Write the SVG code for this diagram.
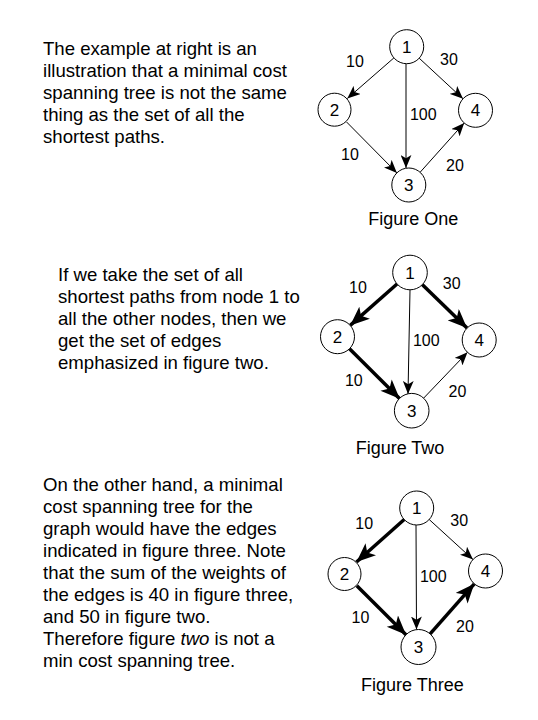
<svg xmlns="http://www.w3.org/2000/svg" width="538" height="720" viewBox="0 0 538 720">
<style>
.p{font-family:"Liberation Sans",Arial,sans-serif;font-size:18.6px;fill:#000}
.n{font-family:"Liberation Sans",Arial,sans-serif;font-size:16px;fill:#000;text-anchor:middle}
.d{font-family:"Liberation Sans",Arial,sans-serif;font-size:17px;fill:#000;text-anchor:middle}
.c{font-family:"Liberation Sans",Arial,sans-serif;font-size:18px;fill:#000;text-anchor:middle}
circle{fill:#fff;stroke:#000;stroke-width:1}
.e{stroke:#000;stroke-width:1;fill:none;marker-end:url(#a)}
.t{stroke:#000;stroke-width:3.5;fill:none;marker-end:url(#b)}
</style>
<defs>
<marker id="a" viewBox="0 0 12 10" refX="12" refY="5" markerWidth="13" markerHeight="11" markerUnits="userSpaceOnUse" orient="auto"><path d="M0,0 L12,5 L0,10 L3,5 Z" fill="#000"/></marker>
<marker id="b" viewBox="0 0 12 10" refX="12" refY="5" markerWidth="20" markerHeight="16" markerUnits="userSpaceOnUse" orient="auto"><path d="M0,0 L12,5 L0,10 L3,5 Z" fill="#000"/></marker>
</defs>
<rect width="538" height="720" fill="#fff"/>

<g id="text1" class="p">
<text x="43" y="55">The example at right is an</text>
<text x="43" y="77">illustration that a minimal cost</text>
<text x="43" y="99">spanning tree is not the same</text>
<text x="43" y="121">thing as the set of all the</text>
<text x="43" y="143">shortest paths.</text>
</g>
<g id="text2" class="p">
<text x="58" y="281">If we take the set of all</text>
<text x="58" y="303">shortest paths from node 1 to</text>
<text x="58" y="325">all the other nodes, then we</text>
<text x="58" y="347">get the set of edges</text>
<text x="58" y="369">emphasized in figure two.</text>
</g>
<g id="text3" class="p">
<text x="43" y="491">On the other hand, a minimal</text>
<text x="43" y="513">cost spanning tree for the</text>
<text x="43" y="535">graph would have the edges</text>
<text x="43" y="557">indicated in figure three.  Note</text>
<text x="43" y="579">that the sum of the weights of</text>
<text x="43" y="601">the edges is 40 in figure three,</text>
<text x="43" y="623">and 50 in figure two.</text>
<text x="43" y="645">Therefore figure <tspan font-style="italic">two</tspan> is not a</text>
<text x="43" y="667">min cost spanning tree.</text>
</g>

<!-- Figure One -->
<g id="fig1-edges">
<line class="e" x1="393.9" y1="57.9" x2="347.3" y2="98.5"/>
<line class="e" x1="419.2" y1="58.2" x2="463" y2="98.8"/>
<line class="e" x1="406" y1="64" x2="406" y2="168"/>
<line class="e" x1="346.4" y1="121.8" x2="396.9" y2="172.9"/>
<line class="e" x1="420.1" y1="172.3" x2="464.2" y2="123"/>
</g>
<g id="fig1-labels" class="n">
<text x="355" y="67.2">10</text>
<text x="449" y="64.5">30</text>
<text x="423.3" y="119.5">100</text>
<text x="350" y="159.7">10</text>
<text x="455" y="170.7">20</text>
</g>
<g id="f1n1"><circle cx="406.7" cy="46.7" r="17"/><text class="d" x="406.7" y="52.8">1</text></g>
<g id="f1n2"><circle cx="334.5" cy="109.7" r="16.5"/><text class="d" x="334.5" y="115.8">2</text></g>
<g id="f1n4"><circle cx="475.5" cy="110.3" r="17"/><text class="d" x="475.5" y="116.4">4</text></g>
<g id="f1n3"><circle cx="408.8" cy="185" r="17"/><text class="d" x="408.8" y="191.1">3</text></g>
<text id="cap1" class="c" x="413.3" y="225">Figure One</text>

<!-- Figure Two -->
<g id="fig2-edges">
<line class="t" x1="397.3" y1="283.8" x2="350.2" y2="325.4"/>
<line class="t" x1="422.2" y1="284.4" x2="467" y2="328.1"/>
<line class="e" x1="410" y1="290" x2="408" y2="394"/>
<line class="t" x1="349.5" y1="348.7" x2="399.7" y2="398.7"/>
<line class="e" x1="423.4" y1="398.4" x2="467.5" y2="352.3"/>
</g>
<g id="fig2-labels" class="n">
<text x="358" y="292.9">10</text>
<text x="451.7" y="289.2">30</text>
<text x="426.3" y="346.2">100</text>
<text x="353.8" y="386.2">10</text>
<text x="457.5" y="397.4">20</text>
</g>
<g id="f2n1"><circle cx="410" cy="272.5" r="17.3"/><text class="d" x="410" y="278.6">1</text></g>
<g id="f2n2"><circle cx="337.5" cy="336.7" r="17"/><text class="d" x="337.5" y="342.8">2</text></g>
<g id="f2n4"><circle cx="479.2" cy="340" r="17"/><text class="d" x="479.2" y="346.1">4</text></g>
<g id="f2n3"><circle cx="411.7" cy="410.7" r="17.3"/><text class="d" x="411.7" y="416.8">3</text></g>
<text id="cap2" class="c" x="400" y="454">Figure Two</text>

<!-- Figure Three -->
<g id="fig3-edges">
<line class="t" x1="404.2" y1="519.5" x2="356.5" y2="562"/>
<line class="e" x1="429.2" y1="519.5" x2="473" y2="559.5"/>
<line class="e" x1="416" y1="525" x2="416.5" y2="629.5"/>
<line class="t" x1="356.8" y1="585.8" x2="406" y2="634.7"/>
<line class="t" x1="430.1" y1="633.9" x2="474.3" y2="583.8"/>
</g>
<g id="fig3-labels" class="n">
<text x="364.2" y="528.5">10</text>
<text x="459.2" y="526.2">30</text>
<text x="433.3" y="581.7">100</text>
<text x="360.5" y="623.2">10</text>
<text x="465" y="632.2">20</text>
</g>
<g id="f3n1"><circle cx="416.7" cy="508" r="17"/><text class="d" x="416.7" y="514.1">1</text></g>
<g id="f3n2"><circle cx="344.5" cy="574" r="16.5"/><text class="d" x="344.5" y="580.1">2</text></g>
<g id="f3n4"><circle cx="485.5" cy="571" r="17"/><text class="d" x="485.5" y="577.1">4</text></g>
<g id="f3n3"><circle cx="418.5" cy="647" r="17.5"/><text class="d" x="418.5" y="653.1">3</text></g>
<text id="cap3" class="c" x="412.3" y="690.7">Figure Three</text>
</svg>
